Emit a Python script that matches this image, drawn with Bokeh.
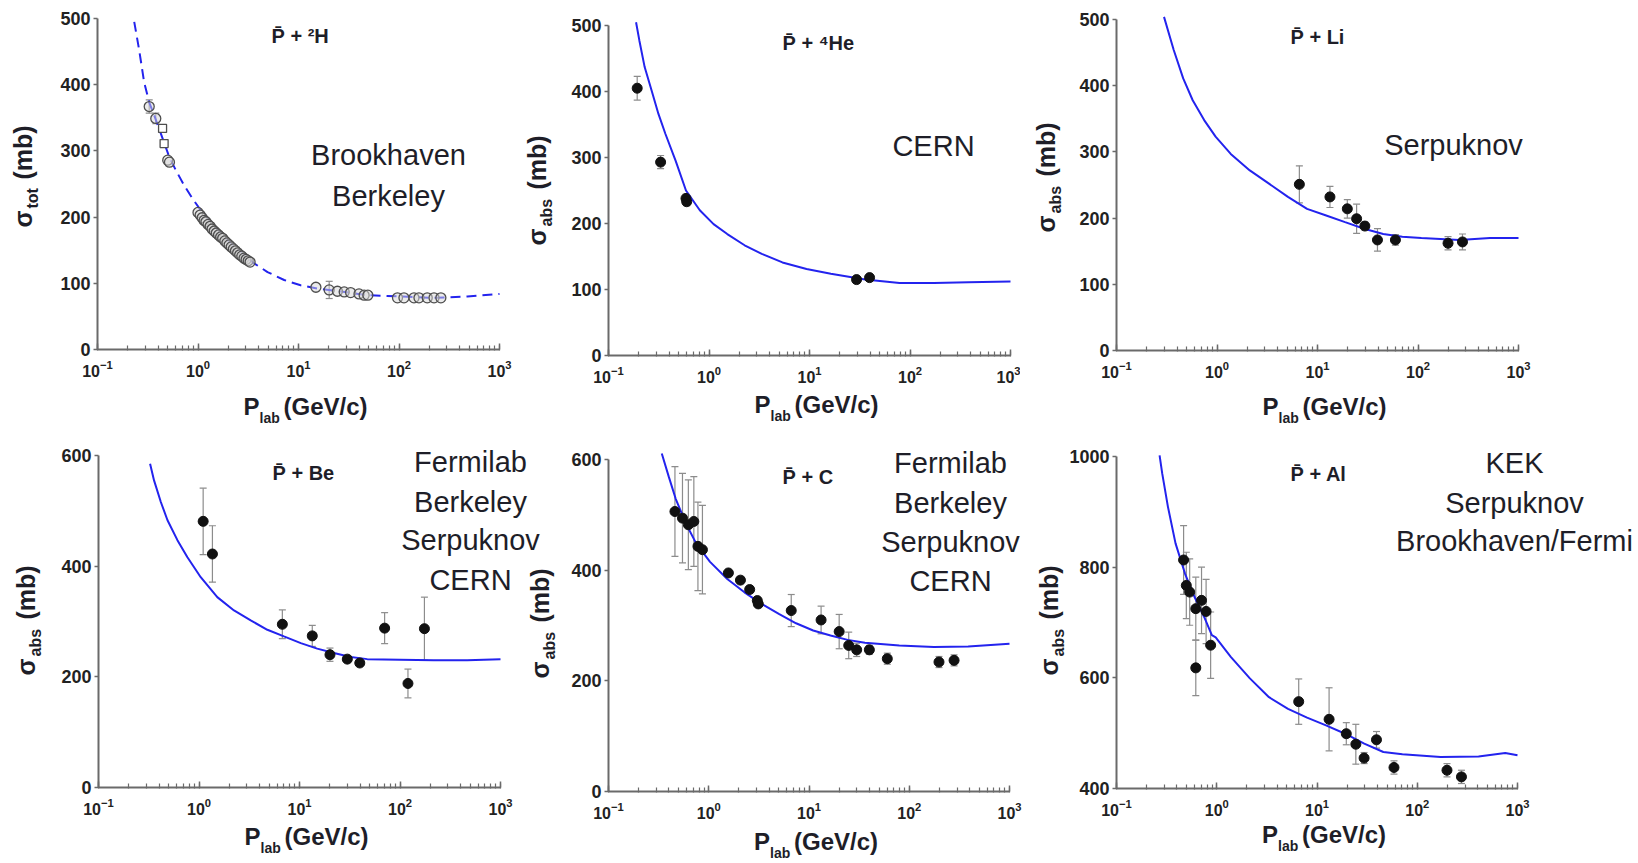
from math import pi
from bokeh.plotting import figure
from bokeh.models import Range1d, FixedTicker, Label, Whisker, TeeHead, ColumnDataSource
from bokeh.layouts import row, column
from bokeh.embed import file_html
from bokeh.resources import INLINE

FONT = "Liberation Sans"
BLUE = "#2323ee"
AXIS = "#6a6a6a"
TXT = "#1e1e28"
ERR = "#8c8c8c"

# ---------------- data ----------------
# Panel 1: pbar + 2H (total cross section)
h2_curve_x = [0.232, 0.26, 0.291, 0.326, 0.366, 0.427, 0.517, 0.601, 0.728, 0.881, 1.07, 1.97, 3.62,
              4.92, 7.2, 10.5, 15.4, 22.6, 48.6, 104, 224, 479, 1000]
h2_curve_y = [495, 452, 404, 374, 354, 326, 291, 271, 248, 228, 210, 165, 130,
              117, 105, 97, 92, 89, 82, 80, 78, 80, 84]
h2_circ_x = [0.327, 0.38, 0.50, 0.52,
             1.00, 1.05, 1.10, 1.15, 1.20, 1.26, 1.32, 1.38, 1.45, 1.52, 1.60, 1.68, 1.76,
             1.85, 1.94, 2.04, 2.14, 2.25, 2.36, 2.48, 2.60, 2.73, 2.87, 3.01, 3.16, 3.30,
             14.9, 20.2, 24.4, 28.5, 33, 40, 45, 49, 96.6, 112, 141, 158, 191, 223, 261]
h2_circ_y = [367, 349, 286, 283,
             207, 203, 199, 195, 193, 189, 186, 182, 179, 176, 173, 170, 168,
             164, 161, 158, 155, 152, 149, 146, 143, 141, 138, 136, 134, 132,
             94, 90, 88, 87, 86, 84, 82, 82, 78, 78, 78, 78, 78, 78, 78]
h2_sq_x = [0.444, 0.46]
h2_sq_y = [334, 311]
h2_err_x = [0.327, 0.38, 20.2]
h2_err_y = [367, 349, 90]
h2_err_e = [10, 8, 13]

# Panel 2: pbar + 4He
he_curve_x = [0.188, 0.203, 0.229, 0.268, 0.314, 0.368, 0.466, 0.59, 0.81, 1.11, 1.52, 2.26, 3.35,
              5.38, 9.35, 16.3, 35.8, 78.7, 173, 382, 1000]
he_curve_y = [505, 477, 437, 402, 366, 336, 295, 250, 220, 199, 184, 167, 154,
              141, 131, 124, 115, 110, 110, 111, 112]
he_x = [0.193, 0.33, 0.59, 0.60, 29.4, 39.6]
he_y = [405, 293, 238, 233, 115, 118]
he_e = [18, 10, 6, 6, 4, 4]

# Panel 3: pbar + Li
li_curve_x = [0.297, 0.371, 0.461, 0.573, 0.745, 0.968, 1.37, 2.12, 3.29, 5.08, 7.87, 12.2, 18.8,
              29.1, 45.1, 69.8, 108, 258, 520, 1000]
li_curve_y = [504, 454, 411, 378, 348, 323, 297, 272, 252, 232, 214, 204, 194,
              184, 176, 172, 170, 167, 170, 170]
li_x = [6.6, 13.3, 19.8, 24.5, 29.6, 39.5, 59.6, 199, 277]
li_y = [251, 232, 214, 199, 188, 167, 167, 162, 164]
li_e = [28, 16, 14, 22, 6, 17, 8, 10, 12]

# Panel 4: pbar + Be
be_curve_x = [0.326, 0.357, 0.417, 0.486, 0.61, 0.767, 1.04, 1.52, 2.23, 3.27, 4.79, 7.0, 10.3,
              15.0, 22.0, 32.3, 47.2, 100, 217, 466, 1000]
be_curve_y = [585, 555, 516, 483, 447, 416, 380, 344, 320, 302, 285, 273, 261,
              251, 243, 236, 232, 231, 230, 230, 232]
be_x = [1.10, 1.36, 6.75, 13.4, 20.1, 29.9, 39.8, 70.3, 120, 175]
be_y = [481, 422, 295, 274, 240, 232, 225, 288, 188, 287]
be_e = [60, 51, 26, 19, 12, 6, 5, 28, 26, 57]

# Panel 5: pbar + C
c_curve_x = [0.34, 0.399, 0.468, 0.593, 0.751, 1.03, 1.53, 2.27, 3.37, 5.0, 7.43, 11.0, 16.4,
             24.3, 36.1, 79.6, 176, 387, 1000]
c_curve_y = [611, 569, 529, 484, 448, 415, 384, 360, 339, 321, 304, 291, 282,
             274, 269, 264, 261, 262, 267]
c_x = [0.46, 0.547, 0.626, 0.71, 0.78, 0.865, 1.57, 2.07, 2.56, 3.05, 3.12, 6.65, 13.2, 20, 24.9,
       29.9, 40, 60.4, 198, 280]
c_y = [506, 494, 482, 488, 443, 437, 395, 382, 365, 345, 339, 327, 310, 289, 264,
       256, 256, 240, 234, 237]
c_e = [81, 81, 81, 81, 80, 80, 6, 6, 6, 6, 6, 29, 25, 31, 24, 12, 8, 10, 10, 10]

# Panel 6: pbar + Al
al_curve_x = [0.269, 0.286, 0.326, 0.388, 0.483, 0.601, 0.749, 0.893, 0.976, 1.38, 2.14, 3.32, 5.14,
              7.96, 12.3, 19.1, 29.6, 45.9, 71.1, 171, 409, 755, 1000]
al_curve_y = [1002, 969, 909, 843, 788, 746, 710, 677, 673, 638, 599, 565, 544,
              528, 514, 499, 481, 466, 462, 457, 458, 464, 460]
al_x = [0.467, 0.497, 0.537, 0.618, 0.618, 0.705, 0.783, 0.869, 6.57, 13.2, 19.6, 24.4, 29.5,
        39.2, 58.6, 198, 276]
al_y = [813, 767, 755, 725, 618, 740, 720, 659, 557, 525, 499, 480, 455, 488, 438, 433, 421]
al_e = [62, 60, 60, 57, 50, 60, 58, 60, 41, 57, 20, 36, 10, 15, 12, 12, 12]

titles = ["P\u0304 + \u00b2H", "P\u0304 + \u2074He", "P\u0304 + Li",
          "P\u0304 + Be", "P\u0304 + C", "P\u0304 + Al"]
labs = [["Brookhaven", "Berkeley"], ["CERN"], ["Serpuknov"],
        ["Fermilab", "Berkeley", "Serpuknov", "CERN"],
        ["Fermilab", "Berkeley", "Serpuknov", "CERN"],
        ["KEK", "Serpuknov", "Brookhaven/Fermi"]]
ysubs = ["tot", "abs", "abs", "abs", "abs", "abs"]
y_ranges = [(0, 500), (0, 500), (0, 500), (0, 600), (0, 600), (400, 1000)]
y_ticks = [[0, 100, 200, 300, 400, 500]] * 3 + [[0, 200, 400, 600]] * 2 + [[400, 600, 800, 1000]]


def make_panel(W, H, L, T, FW, FH, yr, yt):
    ymin, ymax = yr
    # the whole canvas is the frame; axes sit at fixed locations inside it
    x_lo = 10 ** (-1 - 4.0 * L / FW)
    x_hi = 10 ** (3 + 4.0 * (W - L - FW) / FW)
    s = (ymax - ymin) / FH
    y_hi = ymax + T * s
    y_lo = ymin - (H - T - FH) * s
    p = figure(width=W, height=H, x_axis_type="log", x_range=Range1d(x_lo, x_hi),
               y_range=Range1d(y_lo, y_hi), output_backend="svg", toolbar_location=None, title=None,
               min_border=0, min_border_left=0, min_border_right=0,
               min_border_top=0, min_border_bottom=0)
    p.xgrid.visible = False
    p.ygrid.visible = False
    p.outline_line_color = None
    p.background_fill_color = None
    p.border_fill_color = None
    p.xaxis.fixed_location = ymin
    p.yaxis.fixed_location = 0.1
    p.xaxis.bounds = (0.1, 1000)
    p.yaxis.bounds = (ymin, ymax)
    for ax in (p.xaxis, p.yaxis):
        ax.axis_line_color = AXIS
        ax.axis_line_width = 2
        ax.major_tick_line_color = AXIS
        ax.major_tick_line_width = 1.5
        ax.major_label_text_font = FONT
        ax.major_label_text_font_style = "bold"
        ax.major_label_text_color = "#222222"
    p.xaxis.major_tick_in = 6
    p.xaxis.major_tick_out = 0
    p.xaxis.minor_tick_in = 4
    p.xaxis.minor_tick_out = 1
    p.xaxis.minor_tick_line_color = AXIS
    p.xaxis.minor_tick_line_width = 1.2
    p.xaxis.major_label_standoff = 9
    p.xaxis.major_label_text_font_size = "16px"
    p.yaxis.ticker = FixedTicker(ticks=yt)
    p.yaxis.major_tick_in = 0
    p.yaxis.major_tick_out = 4
    p.yaxis.minor_tick_line_color = None
    p.yaxis.major_label_standoff = 3
    p.yaxis.major_label_text_font_size = "18px"
    return p


def txt(p, ytop, dx, dy, text, size, style="normal", align="left", angle=0.0):
    # dx, dy give the text baseline relative to the axes corner; texts are drawn centred
    # on the cap-height middle, so shift by 0.358 em toward the glyph tops
    if angle == 0.0:
        dy = dy - 0.358 * size
    else:
        dx = dx - 0.358 * size
    p.add_layout(Label(x=0.1, y=ytop, x_offset=dx, y_offset=-dy, text=text,
                       text_font=FONT, text_font_size=f"{size}px", text_font_style=style,
                       text_align=align, text_baseline="middle", angle=angle,
                       text_color=TXT))


def decorate(p, i, fw, fh, ylab_dx, sig_start, xlab_off, ann_dx, ann_dy):
    ytop = y_ranges[i][1]
    txt(p, ytop, 174, 25, titles[i], 20, "bold")
    for k, s in enumerate(labs[i]):
        txt(p, ytop, ann_dx, ann_dy[k], s, 29, "normal", "center")
    xd = fw / 2 - 55
    base = fh + xlab_off
    txt(p, ytop, xd, base, "P", 24, "bold")
    txt(p, ytop, xd + 16, base + 8, "lab", 14, "bold")
    txt(p, ytop, xd + 40, base, "(GeV/c)", 24, "bold")
    sub = ysubs[i]
    sub_len = 22 if sub == "tot" else 30
    txt(p, ytop, ylab_dx, sig_start, "\u03c3", 25, "bold", "left", pi / 2)
    txt(p, ytop, ylab_dx + 7, sig_start - 19, sub, 16, "bold", "left", pi / 2)
    txt(p, ytop, ylab_dx, sig_start - 19 - sub_len - 7, "(mb)", 25, "bold", "left", pi / 2)


def errbars(p, xs, ys, es):
    src = ColumnDataSource(dict(x=xs, lo=[a - b for a, b in zip(ys, es)],
                                hi=[a + b for a, b in zip(ys, es)]))
    p.add_layout(Whisker(source=src, base="x", upper="hi", lower="lo", line_color=ERR, line_width=1.2,
                         upper_head=TeeHead(size=7, line_color=ERR, line_width=1.2),
                         lower_head=TeeHead(size=7, line_color=ERR, line_width=1.2), level="underlay"))


def points(p, xs, ys, es):
    errbars(p, xs, ys, es)
    p.scatter(xs, ys, marker="circle", size=10, fill_color="#111111", line_color="#111111")


# ---- top row ----
p1 = make_panel(515, 430, 97, 18, 402, 331, y_ranges[0], y_ticks[0])
p1.line(h2_curve_x, h2_curve_y, line_color=BLUE, line_width=2, line_dash="10 6")
errbars(p1, h2_err_x, h2_err_y, h2_err_e)
p1.scatter(h2_circ_x, h2_circ_y, marker="circle", size=10, fill_color="#d8d8d8", fill_alpha=0.5,
           line_color="#4e4e4e", line_width=1.3)
p1.scatter(h2_sq_x, h2_sq_y, marker="square", size=8, fill_color="white", line_color="#4e4e4e", line_width=1.3)
decorate(p1, 0, 402, 331, -66, 209, 66, 291, [147, 188])

p2 = make_panel(505, 430, 93, 25, 402, 330, y_ranges[1], y_ticks[1])
p2.line(he_curve_x, he_curve_y, line_color=BLUE, line_width=2)
points(p2, he_x, he_y, he_e)
decorate(p2, 1, 402, 330, -63, 220, 58, 325, [131])

p3 = make_panel(618, 430, 96, 19, 402, 331, y_ranges[2], y_ticks[2])
p3.line(li_curve_x, li_curve_y, line_color=BLUE, line_width=2)
points(p3, li_x, li_y, li_e)
decorate(p3, 2, 402, 331, -62, 213, 65, 337, [136])

# ---- bottom row ----
p4 = make_panel(545, 433, 98, 25, 402, 332, y_ranges[3], y_ticks[3])
p4.line(be_curve_x, be_curve_y, line_color=BLUE, line_width=2)
points(p4, be_x, be_y, be_e)
decorate(p4, 3, 402, 332, -64, 220, 58, 372, [17, 57, 95, 135])

p5 = make_panel(505, 433, 83, 29, 401, 332, y_ranges[4], y_ticks[4])
p5.margin = (0, 0, 0, -20)
p5.line(c_curve_x, c_curve_y, line_color=BLUE, line_width=2)
points(p5, c_x, c_y, c_e)
decorate(p5, 4, 401, 332, -60, 219, 59, 342, [14, 54, 93, 132])

p6 = make_panel(608, 433, 86, 26, 401, 332, y_ranges[5], y_ticks[5])
p6.line(al_curve_x, al_curve_y, line_color=BLUE, line_width=2)
points(p6, al_x, al_y, al_e)
decorate(p6, 5, 401, 332, -59, 219, 55, 398, [17, 57, 95])

layout = column(row(p1, p2, p3), row(p4, p5, p6))
open("out.html", "w").write(file_html(layout, INLINE))
